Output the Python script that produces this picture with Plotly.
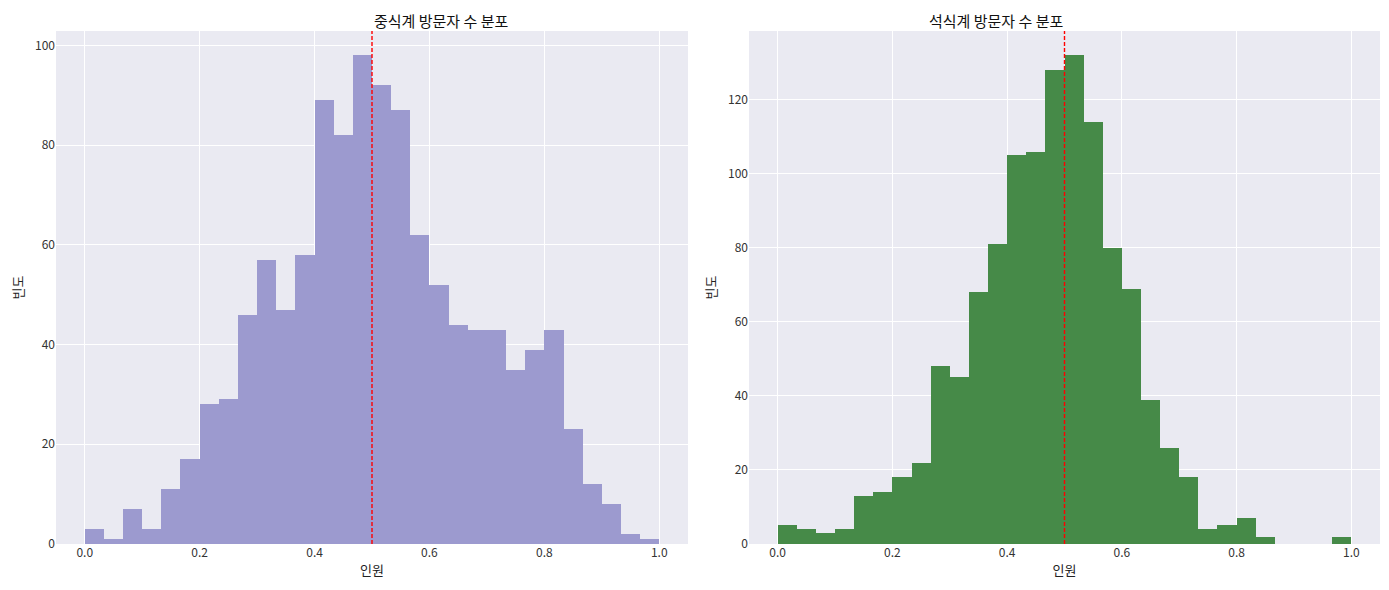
import numpy as np
import plotly.graph_objects as go
from plotly.subplots import make_subplots

# 30 bins over 0..1
bin_edges = np.linspace(0, 1, 31)
lunch_counts = [3, 1, 7, 3, 11, 17, 28, 29, 46, 57,
                47, 58, 89, 82, 98, 92, 87, 62, 52, 44,
                43, 43, 35, 39, 43, 23, 12, 8, 2, 1]
dinner_counts = [5, 4, 3, 4, 13, 14, 18, 22, 48, 45,
                 68, 81, 105, 106, 128, 132, 114, 80, 69, 39,
                 26, 18, 4, 5, 7, 2, 0, 0, 0, 2]
mean_line = 0.5

centers = (bin_edges[:-1] + bin_edges[1:]) / 2
width = bin_edges[1] - bin_edges[0]

FONT = "Noto Sans CJK KR"
BG = "#EAEAF2"

# page body adds an 8px offset, domains are shifted to compensate
W, H = 1389, 590
X1 = [48 / W, 680 / W]
X2 = [741 / W, 1372 / W]
YD = [1 - 536 / H, 1 - 23 / H]

fig = make_subplots(rows=1, cols=2)

fig.add_trace(go.Bar(x=centers, y=lunch_counts, width=width,
                     marker=dict(color="#9C9ACF", line=dict(width=0)),
                     showlegend=False), row=1, col=1)
fig.add_trace(go.Bar(x=centers, y=dinner_counts, width=width,
                     marker=dict(color="#468A48", line=dict(width=0)),
                     showlegend=False), row=1, col=2)

for i, ymax in [(1, max(lunch_counts)), (2, max(dinner_counts))]:
    fig.add_trace(go.Scatter(x=[mean_line, mean_line], y=[0, ymax * 1.05 * 1.1],
                             mode="lines", line=dict(color="#FF0000", width=1.4, dash="4px,2px"),
                             showlegend=False, hoverinfo="skip"), row=1, col=i)

axis_common = dict(showgrid=True, gridcolor="white", gridwidth=1, zeroline=False,
                   showline=False, ticks="", automargin=False,
                   tickfont=dict(size=12, color="#333", family=FONT))

fig.update_xaxes(axis_common, range=[-0.05, 1.05], tickvals=[0, 0.2, 0.4, 0.6, 0.8, 1.0],
                 tickformat=".1f",
                 title=dict(text="인원", font=dict(size=13, color="#222", family=FONT), standoff=6))
fig.update_yaxes(axis_common, title=dict(text="빈도", font=dict(size=13, color="#222", family=FONT), standoff=8))
fig.update_yaxes(range=[0, max(lunch_counts) * 1.05], tickvals=[0, 20, 40, 60, 80, 100], row=1, col=1)
fig.update_yaxes(range=[0, max(dinner_counts) * 1.05], tickvals=[0, 20, 40, 60, 80, 100, 120], row=1, col=2)

fig.update_layout(
    width=W, height=H,
    margin=dict(l=0, r=0, t=0, b=0),
    paper_bgcolor="white", plot_bgcolor=BG,
    bargap=0,
    font=dict(family=FONT),
    xaxis=dict(domain=X1),
    xaxis2=dict(domain=X2),
    yaxis=dict(domain=YD),
    yaxis2=dict(domain=YD),
    annotations=[
        dict(text="중식계 방문자 수 분포", x=sum(X1) / 2, y=1, xref="paper", yref="paper",
             showarrow=False, font=dict(size=15, color="#111", family=FONT), yanchor="top"),
        dict(text="석식계 방문자 수 분포", x=sum(X2) / 2, y=1, xref="paper", yref="paper",
             showarrow=False, font=dict(size=15, color="#111", family=FONT), yanchor="top"),
    ],
)

fig.write_html("out.html")
